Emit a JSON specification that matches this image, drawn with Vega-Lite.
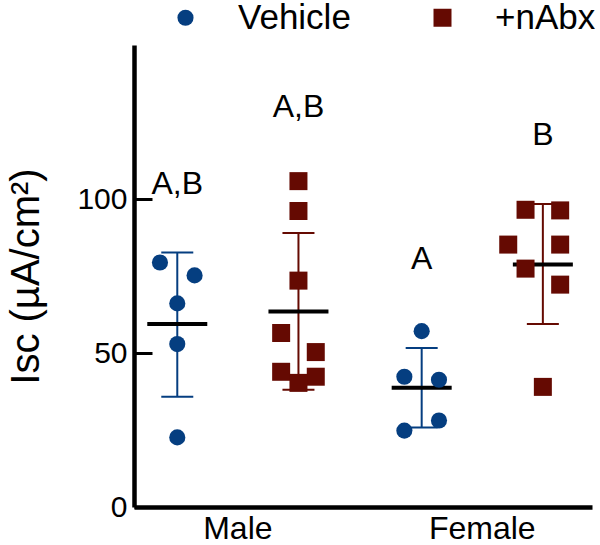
{
  "$schema": "https://vega.github.io/schema/vega-lite/v6.json",
  "width": 458,
  "height": 462,
  "autosize": {"type": "none"},
  "padding": {"left": 134, "top": 45, "right": 8, "bottom": 38},
  "background": "white",
  "config": {
    "font": "Liberation Sans",
    "view": {"stroke": null},
    "axis": {"labelColor": "black", "titleColor": "black", "domainColor": "black", "labelFont": "Liberation Sans", "titleFont": "Liberation Sans"},
    "axisY": {"domainWidth": 4.5, "labelFontSize": 30, "titleFontSize": 40, "titleFontWeight": "normal", "titleX": -108, "titleY": 231, "titleAlign": "center", "titleBaseline": "middle"},
    "axisX": {"grid": false, "domainWidth": 4.5, "ticks": false, "labelFontSize": 32, "labelPadding": 6, "labelAngle": 0}
  },
  "datasets": {
    "points": [
      {"sex": "Male", "group": "Vehicle", "col": "c0", "isc": 79.4},
      {"sex": "Male", "group": "Vehicle", "col": "c2", "isc": 75.2},
      {"sex": "Male", "group": "Vehicle", "col": "c1", "isc": 66.1},
      {"sex": "Male", "group": "Vehicle", "col": "c1", "isc": 52.9},
      {"sex": "Male", "group": "Vehicle", "col": "c1", "isc": 22.6},
      {"sex": "Male", "group": "+nAbx", "col": "c8", "isc": 105.8},
      {"sex": "Male", "group": "+nAbx", "col": "c8", "isc": 96.1},
      {"sex": "Male", "group": "+nAbx", "col": "c8", "isc": 73.5},
      {"sex": "Male", "group": "+nAbx", "col": "c7", "isc": 56.5},
      {"sex": "Male", "group": "+nAbx", "col": "c9", "isc": 50.3},
      {"sex": "Male", "group": "+nAbx", "col": "c7", "isc": 43.9},
      {"sex": "Male", "group": "+nAbx", "col": "c9", "isc": 42.3},
      {"sex": "Male", "group": "+nAbx", "col": "c8", "isc": 40.3},
      {"sex": "Female", "group": "Vehicle", "col": "c1", "isc": 57.1},
      {"sex": "Female", "group": "Vehicle", "col": "c0", "isc": 42.3},
      {"sex": "Female", "group": "Vehicle", "col": "c2", "isc": 41.3},
      {"sex": "Female", "group": "Vehicle", "col": "c2", "isc": 28.1},
      {"sex": "Female", "group": "Vehicle", "col": "c0", "isc": 24.8},
      {"sex": "Female", "group": "+nAbx", "col": "c7", "isc": 96.5},
      {"sex": "Female", "group": "+nAbx", "col": "c9", "isc": 96.3},
      {"sex": "Female", "group": "+nAbx", "col": "c6", "isc": 85.2},
      {"sex": "Female", "group": "+nAbx", "col": "c9", "isc": 85.2},
      {"sex": "Female", "group": "+nAbx", "col": "c7", "isc": 77.4},
      {"sex": "Female", "group": "+nAbx", "col": "c9", "isc": 72.2},
      {"sex": "Female", "group": "+nAbx", "col": "c8", "isc": 39.0}
    ],
    "summary": [
      {"sex": "Male", "group": "Vehicle", "col": "c1", "mean": 59.4, "lo": 35.8, "hi": 82.6, "letter": "A,B", "ly": 101.6},
      {"sex": "Male", "group": "+nAbx", "col": "c8", "mean": 63.5, "lo": 38.1, "hi": 89.0, "letter": "A,B", "ly": 126.5},
      {"sex": "Female", "group": "Vehicle", "col": "c1", "mean": 38.7, "lo": 25.8, "hi": 51.6, "letter": "A", "ly": 77.4},
      {"sex": "Female", "group": "+nAbx", "col": "c8", "mean": 78.7, "lo": 59.4, "hi": 98.4, "letter": "B", "ly": 117.4}
    ]
  },
  "encoding": {
    "x": {"field": "sex", "type": "nominal", "title": null, "scale": {"domain": ["Male", "Female"], "paddingInner": 0.15, "paddingOuter": 0.012, "align": 0}},
    "xOffset": {"field": "col", "type": "nominal", "scale": {"domain": ["c0", "c1", "c2", "c3", "c4", "c5", "c6", "c7", "c8", "c9"], "paddingInner": 0, "paddingOuter": 2.9}}
  },
  "layer": [
    {
      "data": {"name": "points"},
      "mark": {"type": "point", "filled": true, "opacity": 0},
      "encoding": {
        "y": {"field": "isc", "type": "quantitative", "title": "Isc (µA/cm²)", "scale": {"domain": [0, 150], "nice": false}, "axis": {"values": [0, 50, 100], "ticks": true, "tickSize": -18, "tickWidth": 3, "tickColor": "black", "tickOpacity": 1, "labelPadding": 25, "grid": false}}
      }
    },
    {
      "data": {"name": "summary"},
      "mark": {"type": "rule", "strokeWidth": 2},
      "encoding": {
        "y": {"field": "lo", "type": "quantitative", "title": "Isc (µA/cm²)"},
        "y2": {"field": "hi"},
        "color": {"field": "group", "type": "nominal", "scale": {"domain": ["Vehicle", "+nAbx"], "range": ["#053e80", "#650a02"]}}
      }
    },
    {
      "data": {"name": "summary"},
      "mark": {"type": "tick", "size": 32, "thickness": 2, "orient": "horizontal", "opacity": 1},
      "encoding": {
        "y": {"field": "lo", "type": "quantitative", "title": "Isc (µA/cm²)"},
        "color": {"field": "group", "type": "nominal"}
      }
    },
    {
      "data": {"name": "summary"},
      "mark": {"type": "tick", "size": 32, "thickness": 2, "orient": "horizontal", "opacity": 1},
      "encoding": {
        "y": {"field": "hi", "type": "quantitative", "title": "Isc (µA/cm²)"},
        "color": {"field": "group", "type": "nominal"}
      }
    },
    {
      "data": {"name": "summary"},
      "mark": {"type": "tick", "size": 60, "thickness": 4, "orient": "horizontal", "color": "black", "opacity": 1},
      "encoding": {
        "y": {"field": "mean", "type": "quantitative", "title": "Isc (µA/cm²)"}
      }
    },
    {
      "data": {"name": "points"},
      "mark": {"type": "point", "filled": true, "opacity": 1},
      "encoding": {
        "y": {"field": "isc", "type": "quantitative", "title": "Isc (µA/cm²)"},
        "color": {"field": "group", "type": "nominal", "legend": {"orient": "none", "legendX": 34, "legendY": -45, "direction": "horizontal", "title": null, "labelFontSize": 35, "labelColor": "black", "symbolSize": 300, "labelOffset": 35, "columnPadding": 74, "symbolStrokeWidth": 0, "labelFont": "Liberation Sans"}},
        "shape": {"field": "group", "type": "nominal", "scale": {"domain": ["Vehicle", "+nAbx"], "range": ["circle", "square"]}, "legend": {"orient": "none", "legendX": 34, "legendY": -45, "direction": "horizontal", "title": null, "labelFontSize": 35, "labelColor": "black", "symbolSize": 300, "labelOffset": 35, "columnPadding": 74, "symbolStrokeWidth": 0, "labelFont": "Liberation Sans"}},
        "size": {"field": "group", "type": "ordinal", "scale": {"domain": ["Vehicle", "+nAbx"], "range": [260, 324]}, "legend": null}
      }
    },
    {
      "data": {"name": "summary"},
      "mark": {"type": "text", "fontSize": 32, "align": "center", "baseline": "alphabetic", "color": "black"},
      "encoding": {
        "y": {"field": "ly", "type": "quantitative", "title": "Isc (µA/cm²)"},
        "text": {"field": "letter"}
      }
    }
  ]
}
